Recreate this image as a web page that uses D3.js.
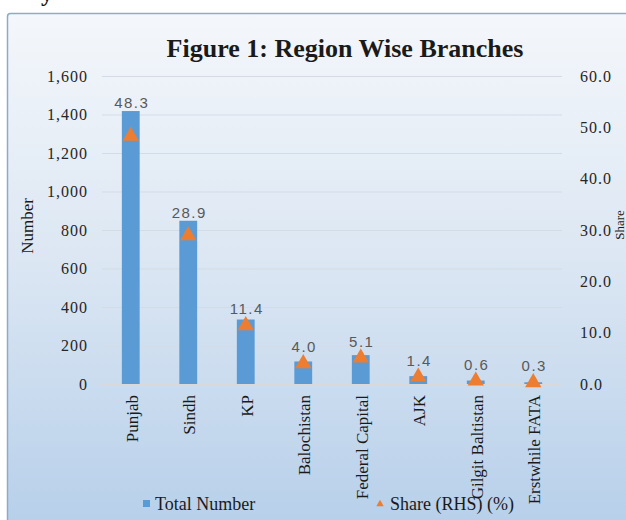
<!DOCTYPE html>
<html>
<head>
<meta charset="utf-8">
<script src="https://cdn.jsdelivr.net/npm/d3@7"></script>
<style>
  html, body { margin: 0; padding: 0; background: #ffffff; }
  svg { display: block; }
</style>
</head>
<body>
<script>
// ---- data ----
const categories = ["Punjab", "Sindh", "KP", "Balochistan", "Federal Capital", "AJK", "Gilgit Baltistan", "Erstwhile FATA"];
const totalNumber = [1418, 848, 335, 117, 150, 41, 18, 9];
const sharePct = [48.3, 28.9, 11.4, 4.0, 5.1, 1.4, 0.6, 0.3];
const leftTicks = [0, 200, 400, 600, 800, 1000, 1200, 1400, 1600];
const rightTicks = [0, 10, 20, 30, 40, 50, 60];
const titleText = "Figure 1: Region Wise Branches";
const leftTitle = "Number";
const rightTitle = "Share";
const legendLabels = ["Total Number", "Share (RHS) (%)"];

// ---- layout ----
const W = 626, H = 520;
const svg = d3.select("body").append("svg").attr("width", W).attr("height", H);
const defs = svg.append("defs");
const grad = defs.append("linearGradient").attr("id", "bg").attr("x1", 0).attr("y1", 0).attr("x2", 0).attr("y2", 1);
grad.append("stop").attr("offset", "0%").attr("stop-color", "#f4f7fb");
grad.append("stop").attr("offset", "45%").attr("stop-color", "#dce7f3");
grad.append("stop").attr("offset", "100%").attr("stop-color", "#b3cde9");

// text above the chart (cut off at top, as in the source page)
svg.append("text").attr("x", 41).attr("y", 1).attr("font-family", "Liberation Serif").attr("font-weight", "bold")
  .attr("font-size", 24).attr("fill", "#111").text("y");

// chart frame
svg.append("rect").attr("x", 7.5).attr("y", 13.5).attr("width", 660).attr("height", 540).attr("rx", 3)
  .attr("fill", "url(#bg)").attr("stroke", "#8eaacb").attr("stroke-width", 1.5);

const x = d3.scaleBand().domain(categories).range([102, 562]).paddingInner(0.69).paddingOuter(0.345);
const yL = d3.scaleLinear().domain([0, 1600]).range([384, 76]);
const yR = d3.scaleLinear().domain([0, 60]).range([384, 76]);

// gridlines
svg.append("g").selectAll("line").data(leftTicks.slice(1)).join("line")
  .attr("x1", 102).attr("x2", 562).attr("y1", d => yL(d) + 0.5).attr("y2", d => yL(d) + 0.5)
  .attr("stroke", "#d3dce6").attr("stroke-width", 1);
// baseline
svg.append("line").attr("x1", 102).attr("x2", 562).attr("y1", yL(0) + 0.5).attr("y2", yL(0) + 0.5)
  .attr("stroke", "#d9d9d9").attr("stroke-width", 1);

// left axis
const axL = d3.axisLeft(yL).tickValues(leftTicks).tickSize(0).tickPadding(0).tickFormat(d3.format(","));
const gL = svg.append("g").attr("transform", "translate(88,0)").call(axL);
gL.select(".domain").remove();
gL.selectAll("text").attr("font-family", "Liberation Serif").attr("font-size", 16).attr("fill", "#262626")
  .attr("letter-spacing", "1px").attr("dy", "0.32em");

// right axis
const axR = d3.axisRight(yR).tickValues(rightTicks).tickSize(0).tickPadding(0).tickFormat(d3.format(".1f"));
const gR = svg.append("g").attr("transform", "translate(580,0)").call(axR);
gR.select(".domain").remove();
gR.selectAll("text").attr("font-family", "Liberation Serif").attr("font-size", 16).attr("fill", "#262626")
  .attr("letter-spacing", "1px").attr("dy", "0.32em");

// axis titles
svg.append("text").attr("transform", "translate(33,226) rotate(-90)").attr("text-anchor", "middle")
  .attr("font-family", "Liberation Serif").attr("font-size", 17).attr("fill", "#1a1a1a").text(leftTitle);
svg.append("text")
  .attr("transform", "translate(624,225) rotate(-90)").attr("text-anchor", "middle")
  .attr("font-family", "Liberation Serif").attr("font-size", 13).attr("fill", "#1a1a1a").text(rightTitle);

// bars
svg.append("g").selectAll("rect").data(categories).join("rect")
  .attr("x", d => x(d)).attr("width", x.bandwidth())
  .attr("y", (d, i) => yL(totalNumber[i])).attr("height", (d, i) => yL(0) - yL(totalNumber[i]))
  .attr("fill", "#5b9bd5");

// triangles
const tri = d3.symbol().type(d3.symbolTriangle).size(115);
svg.append("g").selectAll("path").data(categories).join("path")
  .attr("d", tri)
  .attr("transform", (d, i) => `translate(${x(d) + x.bandwidth() / 2},${yR(sharePct[i])})`)
  .attr("fill", "#ed7d31");

// data labels
svg.append("g").selectAll("text").data(categories).join("text")
  .attr("x", d => x(d) + x.bandwidth() / 2 + 1)
  .attr("y", (d, i) => Math.min(yL(totalNumber[i]), yR(sharePct[i]) - 8) - 3)
  .attr("text-anchor", "middle").attr("font-family", "Liberation Sans").attr("font-size", 15)
  .attr("letter-spacing", "1.5px").attr("fill", "#595959")
  .text((d, i) => sharePct[i].toFixed(1));

// category labels
svg.append("g").selectAll("text").data(categories).join("text")
  .attr("transform", d => `translate(${x(d) + x.bandwidth() / 2 + 7},395) rotate(-90)`)
  .attr("text-anchor", "end").attr("font-family", "Liberation Serif").attr("font-size", 17)
  .attr("fill", "#1a1a1a").text(d => d);

// title
svg.append("text").attr("x", 345).attr("y", 57).attr("text-anchor", "middle")
  .attr("font-family", "Liberation Serif").attr("font-weight", "bold").attr("font-size", 26)
  .attr("fill", "#1a1a1a").text(titleText);

// legend
const lg = svg.append("g");
lg.append("rect").attr("x", 143).attr("y", 500).attr("width", 7).attr("height", 7).attr("fill", "#5b9bd5");
lg.append("text").attr("x", 155).attr("y", 510).attr("font-family", "Liberation Serif").attr("font-size", 18)
  .attr("fill", "#1a1a1a").text(legendLabels[0]);
lg.append("path").attr("d", d3.symbol().type(d3.symbolTriangle).size(24))
  .attr("transform", "translate(380,504)").attr("fill", "#ed7d31");
lg.append("text").attr("x", 390).attr("y", 510).attr("font-family", "Liberation Serif").attr("font-size", 18)
  .attr("fill", "#1a1a1a").text(legendLabels[1]);
</script>
</body>
</html>
